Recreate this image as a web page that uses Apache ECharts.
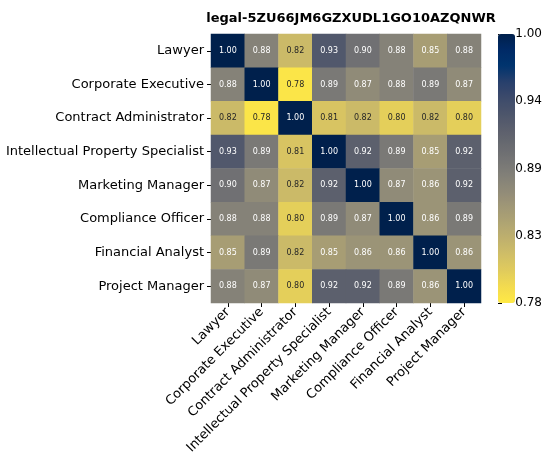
<!DOCTYPE html>
<html><head><meta charset="utf-8">
<script src="https://cdn.jsdelivr.net/npm/echarts@6/dist/echarts.min.js"></script>
<style>html,body{margin:0;padding:0;background:#fff}#c{width:545px;height:460px}</style>
</head><body><div id="c"></div>
<script>
const categories = ["Lawyer","Corporate Executive","Contract Administrator","Intellectual Property Specialist","Marketing Manager","Compliance Officer","Financial Analyst","Project Manager"];
const rowLawyer = [1.00,0.88,0.82,0.93,0.90,0.88,0.85,0.88];
const rowCorporateExecutive = [0.88,1.00,0.78,0.89,0.87,0.88,0.89,0.87];
const rowContractAdministrator = [0.82,0.78,1.00,0.81,0.82,0.80,0.82,0.80];
const rowIPSpecialist = [0.93,0.89,0.81,1.00,0.92,0.89,0.85,0.92];
const rowMarketingManager = [0.90,0.87,0.82,0.92,1.00,0.87,0.86,0.92];
const rowComplianceOfficer = [0.88,0.88,0.80,0.89,0.87,1.00,0.86,0.89];
const rowFinancialAnalyst = [0.85,0.89,0.82,0.85,0.86,0.86,1.00,0.86];
const rowProjectManager = [0.88,0.87,0.80,0.92,0.92,0.89,0.86,1.00];
const colorbarTicks = ["0.78","0.83","0.89","0.94","1.00"];
const vMin = 0.776, vMax = 1.00;

const rows = [rowLawyer,rowCorporateExecutive,rowContractAdministrator,rowIPSpecialist,rowMarketingManager,rowComplianceOfficer,rowFinancialAnalyst,rowProjectManager];
const data = [];
rows.forEach((r, yi) => r.forEach((v, xi) => {
  data.push({value:[xi, yi, v], label:{color: v <= 0.825 ? '#262626' : '#ffffff'}});
}));

const cividis = ['rgb(0,32,76)','rgb(0,42,102)','rgb(0,52,110)','rgb(39,63,108)','rgb(60,74,107)','rgb(76,85,107)','rgb(91,95,109)','rgb(104,106,112)','rgb(117,117,117)','rgb(131,129,120)','rgb(146,140,120)','rgb(161,152,118)','rgb(176,165,114)','rgb(192,177,109)','rgb(209,191,102)','rgb(225,204,92)','rgb(243,219,79)','rgb(255,233,69)'];
const cividisR = cividis.slice().reverse();
const font = 'DejaVu Sans';
const chart = echarts.init(document.getElementById('c'));
chart.setOption({
  backgroundColor:'#fff',
  animation:false,
  textStyle:{fontFamily:font},
  title:{text:'legal-5ZU66JM6GZXUDL1GO10AZQNWR', left:346, top:7, textAlign:'center',
    textStyle:{fontFamily:font, fontSize:13, fontWeight:'bold', color:'#000'}},
  grid:[
    {left:211, top:34, width:270, height:269},
    {left:498, top:34, width:17, height:269}
  ],
  xAxis:[
    {type:'category', data:categories, gridIndex:0, position:'bottom',
      axisLine:{show:false}, axisTick:{show:true, alignWithLabel:true, length:4, lineStyle:{color:'#000'}},
      axisLabel:{rotate:45, fontSize:13, color:'#000', fontFamily:font, margin:7}, splitLine:{show:false}},
    {type:'value', gridIndex:1, show:false, min:0, max:1}
  ],
  yAxis:[
    {type:'category', data:categories, gridIndex:0, inverse:true,
      axisLine:{show:false}, axisTick:{show:true, alignWithLabel:true, length:4, lineStyle:{color:'#000'}},
      axisLabel:{fontSize:13, color:'#000', fontFamily:font, margin:7}, splitLine:{show:false}},
    {type:'value', gridIndex:1, position:'right', min:0, max:4, interval:1,
      axisLine:{show:false}, axisTick:{show:true, length:4, lineStyle:{color:'#000'}},
      axisLabel:{fontSize:12, color:'#000', fontFamily:font, margin:3, formatter:(v)=>colorbarTicks[v]},
      splitLine:{show:false}}
  ],
  visualMap:{type:'continuous', min:vMin, max:vMax, calculable:false, seriesIndex:0,
    orient:'vertical', left:498, top:34, itemWidth:17, itemHeight:269, padding:0,
    text:null, showLabel:false, inRange:{color:cividisR}},
  series:[{
    type:'heatmap', xAxisIndex:0, yAxisIndex:0, data:data,
    label:{show:true, fontSize:8, fontFamily:font, formatter:(p)=>p.value[2].toFixed(2)},
    itemStyle:{borderWidth:0}, emphasis:{disabled:true}
  }]
});
</script></body></html>
